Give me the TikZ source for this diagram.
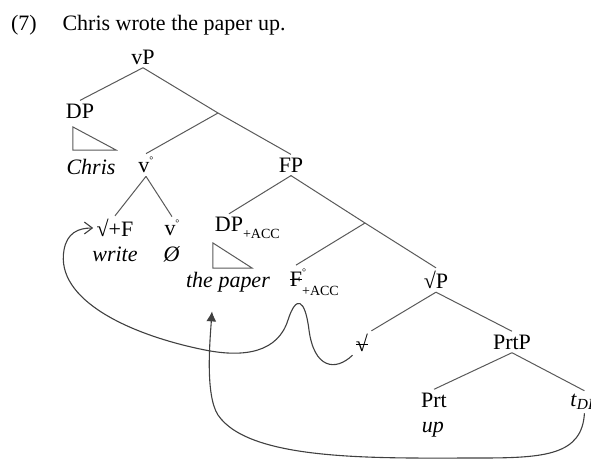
\documentclass[tikz,border=0pt]{standalone}
\usepackage{fontspec}
\setmainfont{Liberation Serif}
\usetikzlibrary{arrows.meta}
\newcommand{\accsub}{\raisebox{-0.7ex}{\scriptsize +ACC}}
\newsavebox{\strkbox}
\newcommand{\strk}[1]{\sbox{\strkbox}{#1}\rlap{\usebox{\strkbox}}\rule[0.3em]{\wd\strkbox}{0.4pt}}

\begin{document}
\begin{tikzpicture}[x=0.5pt, y=-0.5pt, font=\fontsize{11}{13}\selectfont]
    % Estilos
    \tikzstyle{lbl}=[inner sep=1.5pt, text=black]
    \tikzstyle{branch}=[black!65, line width=0.5pt]
    \tikzstyle{roof}=[black!65, line width=0.5pt]
    \tikzstyle{mover}=[black!75, line width=0.55pt]
    \useasboundingbox (0,0) rectangle (591,462);
    % Ejemplo y oracion
    \node[lbl] (num) at (24,25) {(7)};
    \node[lbl] (sent) at (174,25) {Chris wrote the paper up.};
    % Parte alta del arbol
    \node[lbl] (vP) at (143,57) {vP};
    \node[lbl] (DP) at (80,111) {DP};
    \node[lbl] (Chris) at (91,167) {\textit{Chris}};
    \coordinate (vbar) at (218,113);
    \node[lbl] (vhead) at (146,165) {v\raisebox{0.9ex}{\tiny °}};
    \node[lbl] (FP) at (291,165) {FP};
    % Nucleo complejo v
    \node[lbl] (rootF) at (115,228) {√+F};
    \node[lbl] (vnull) at (172,228) {v\raisebox{0.9ex}{\tiny °}};
    \node[lbl] (write) at (115,254) {\textit{write}};
    \node[lbl] (null) at (172,254) {\textit{Ø}};
    % Proyeccion FP
    \node[lbl] (DPacc) at (229,228) {DP\rlap{\accsub}};
    \node[lbl] (paper) at (228,282) {\textit{the paper}};
    \coordinate (Fbar) at (365,223);
    \node[lbl] (Fhead) at (296,282) {\strk{F}\rlap{\raisebox{1.1ex}{\tiny °}}\rlap{\raisebox{-0.9ex}{\scriptsize +ACC}}};
    \node[lbl] (rootP) at (436,280) {√P};
    \node[lbl] (rootcopy) at (362,343) {\strk{√}};
    \node[lbl] (PrtP) at (512,342) {PrtP};
    \node[lbl] (Prt) at (434,400) {Prt};
    \node[lbl] (up) at (433,430) {\textit{up}};
    \node[lbl, anchor=west] (trace) at (567,402) {\textit{t}\textsubscript{\textit{DP}}};
    % Triangulos
    \draw[roof] (73,127) -- (73,150) -- (116,150) -- cycle;
    \draw[roof] (213,243) -- (213,268) -- (252,268) -- cycle;
    % Ramas
    \draw[branch] (vP.south) -- (DP.north);
    \draw[branch] (vP.south) -- (vbar);
    \draw[branch] (vbar) -- (vhead.north);
    \draw[branch] (vbar) -- (FP.north);
    \draw[branch] (vhead.south) -- (rootF.north);
    \draw[branch] (vhead.south) -- (vnull.north);
    \draw[branch] (FP.south) -- (DPacc.north);
    \draw[branch] (FP.south) -- (Fbar);
    \draw[branch] (Fbar) -- (Fhead.north);
    \draw[branch] (Fbar) -- (rootP.north);
    \draw[branch] (rootP.south) -- (rootcopy.north east);
    \draw[branch] (rootP.south) -- (PrtP.north);
    \draw[branch] (PrtP.south) -- (Prt.north);
    \draw[branch] (PrtP.south) -- (trace.north);
    % Movimiento del nucleo raiz
    \draw[mover, -{Straight Barb[length=4pt, width=6pt]}] (rootcopy.south west)
        .. controls (335,372) and (314,368) .. (309,330)
        .. controls (305,298) and (296,295) .. (288,320)
        .. controls (278,352) and (245,358) .. (205,350)
        .. controls (130,335) and (55,300) .. (64,250)
        .. controls (67,233) and (78,228) .. (rootF.west);
    % Movimiento del DP objeto
    \draw[mover, -{Latex[length=5pt, width=5pt]}] (trace.south)
        .. controls (582,455) and (545,458) .. (480,458)
        .. controls (380,458) and (250,462) .. (218,415)
        .. controls (205,395) and (210,340) .. ([xshift=-8pt, yshift=-8pt]paper.south);
\end{tikzpicture}
\end{document}
